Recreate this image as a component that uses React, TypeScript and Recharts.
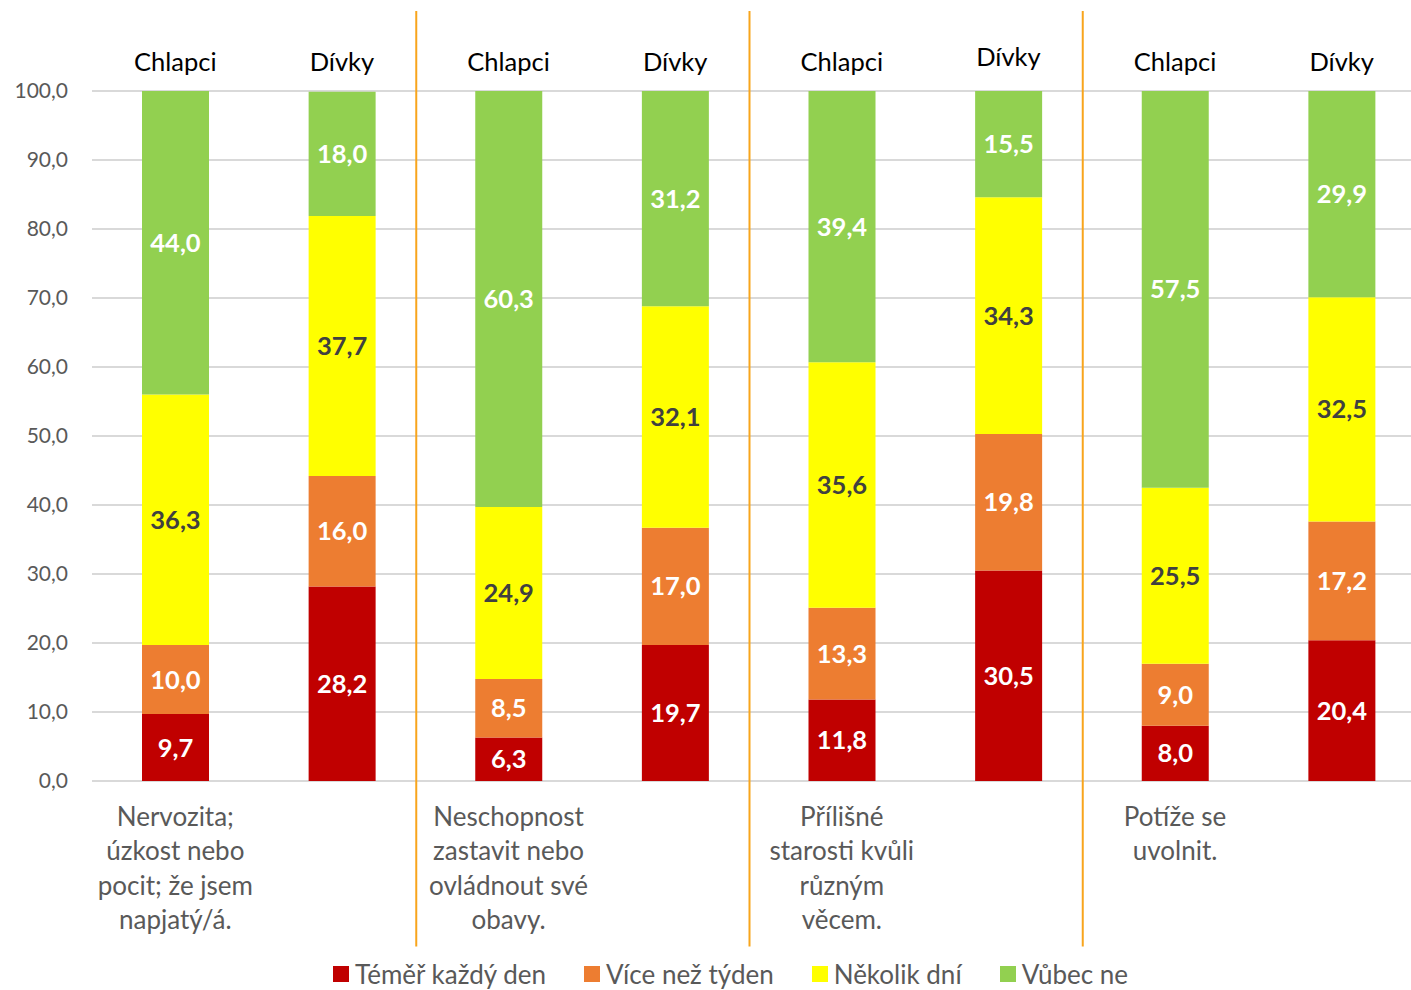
import React from "react";
import {
  BarChart,
  Bar,
  XAxis,
  YAxis,
  CartesianGrid,
  LabelList,
  Legend,
  ReferenceLine,
} from "recharts";

const groups = [
  ["Nervozita;", "úzkost nebo", "pocit; že jsem", "napjatý/á."],
  ["Neschopnost", "zastavit nebo", "ovládnout své", "obavy."],
  ["Přílišné", "starosti kvůli", "různým", "věcem."],
  ["Potíže se", "uvolnit."],
];
const genders = ["Chlapci", "Dívky"];

const everyDay = [9.7, 28.2, 6.3, 19.7, 11.8, 30.5, 8.0, 20.4];
const moreThanWeek = [10.0, 16.0, 8.5, 17.0, 13.3, 19.8, 9.0, 17.2];
const fewDays = [36.3, 37.7, 24.9, 32.1, 35.6, 34.3, 25.5, 32.5];
const notAtAll = [44.0, 18.0, 60.3, 31.2, 39.4, 15.5, 57.5, 29.9];

const yTicks = [0, 10, 20, 30, 40, 50, 60, 70, 80, 90, 100];

const SERIES = [
  { key: "d", name: "Téměř každý den", color: "#C00000", text: "#ffffff" },
  { key: "w", name: "Více než týden", color: "#ED7D31", text: "#ffffff" },
  { key: "f", name: "Několik dní", color: "#FFFF00", text: "#404040" },
  { key: "n", name: "Vůbec ne", color: "#92D050", text: "#ffffff" },
];

const data = everyDay.map((_, i) => ({
  id: `${Math.floor(i / 2)}-${genders[i % 2]}`,
  gender: genders[i % 2],
  group: Math.floor(i / 2),
  d: everyDay[i],
  w: moreThanWeek[i],
  f: fewDays[i],
  n: notAtAll[i],
}));

const FONT = "Lato, 'Open Sans', sans-serif";
const fmt = (v: any) => Number(v).toFixed(1).replace(".", ",");

const TopTick = (props: any) => {
  const { x, y, payload, index } = props;
  const lift = index === 5 ? -5 : 0;
  return (
    <text
      x={x}
      y={y - 12 + lift}
      textAnchor="middle"
      fill="#000000"
      fontSize={25.5}
      fontFamily={FONT}
    >
      {data[index] ? data[index].gender : payload.value}
    </text>
  );
};

const BottomTick = (props: any) => {
  const { x, y, index } = props;
  if (index % 2 !== 0) return null;
  const lines = groups[Math.floor(index / 2)];
  return (
    <text
      x={x}
      y={y}
      textAnchor="middle"
      fill="#595959"
      fontSize={26}
      fontFamily={FONT}
    >
      {lines.map((l, k) => (
        <tspan key={k} x={x} dy={k === 0 ? 37 : 34.3}>
          {l}
        </tspan>
      ))}
    </text>
  );
};

const SepLine = (props: any) => {
  const { x1, y1, x2, y2 } = props;
  return (
    <line
      x1={x1 - 9}
      y1={y1}
      x2={x2 - 9}
      y2={y2}
      stroke="#F8A51C"
      strokeWidth={2}
    />
  );
};

const LegendContent = () => (
  <div
    style={{
      display: "flex",
      justifyContent: "center",
      gap: 38,
      fontFamily: FONT,
      fontSize: 26,
      lineHeight: "30px",
      color: "#595959",
      paddingLeft: 36,
      paddingTop: 1,
      whiteSpace: "nowrap",
    }}
  >
    {SERIES.map((s) => (
      <div key={s.key} style={{ display: "flex", alignItems: "center" }}>
        <span
          style={{
            width: 16,
            height: 16,
            background: s.color,
            display: "inline-block",
            marginRight: 6,
          }}
        />
        {s.name}
      </div>
    ))}
  </div>
);

export default function App() {
  return (
    <div
      style={{
        position: "absolute",
        left: 0,
        top: 0,
        width: 1411,
        height: 990,
        overflow: "hidden",
        background: "#ffffff",
      }}
    >
      <BarChart
        width={1425}
        height={990}
        data={data}
        margin={{ top: 40, right: 0, bottom: 0, left: 0 }}
        barSize={67}
      >
        <CartesianGrid vertical={false} stroke="#D9D9D9" strokeWidth={2} />
        <XAxis
          xAxisId="top"
          orientation="top"
          dataKey="id"
          height={51}
          axisLine={false}
          tickLine={false}
          tick={<TopTick />}
          interval={0}
        />
        <XAxis
          dataKey="id"
          height={177}
          axisLine={false}
          tickLine={false}
          tick={<BottomTick />}
          interval={0}
        />
        <YAxis
          width={92}
          domain={[0, 100]}
          ticks={yTicks}
          allowDataOverflow
          axisLine={false}
          tickLine={false}
          tickSize={0}
          tickMargin={24}
          tickFormatter={fmt}
          tick={{ fill: "#595959", fontSize: 21, fontFamily: FONT }}
        />
        {SERIES.map((s) => (
          <Bar
            key={s.key}
            dataKey={s.key}
            name={s.name}
            stackId="a"
            fill={s.color}
            isAnimationActive={false}
          >
            <LabelList
              dataKey={s.key}
              position="center"
              formatter={fmt}
              fill={s.text}
              fontSize={25.5}
              fontWeight="bold"
              fontFamily={FONT}
            />
          </Bar>
        ))}
        {[0, 1, 2].map((g) => (
          <ReferenceLine
            key={g}
            segment={[
              { x: `${g}-Dívky`, y: -24 },
              { x: `${g}-Dívky`, y: 111.6 },
            ]}
            position="end"
            ifOverflow="visible"
            shape={<SepLine />}
          />
        ))}
        <Legend
          verticalAlign="bottom"
          height={32}
          content={<LegendContent />}
        />
      </BarChart>
    </div>
  );
}
